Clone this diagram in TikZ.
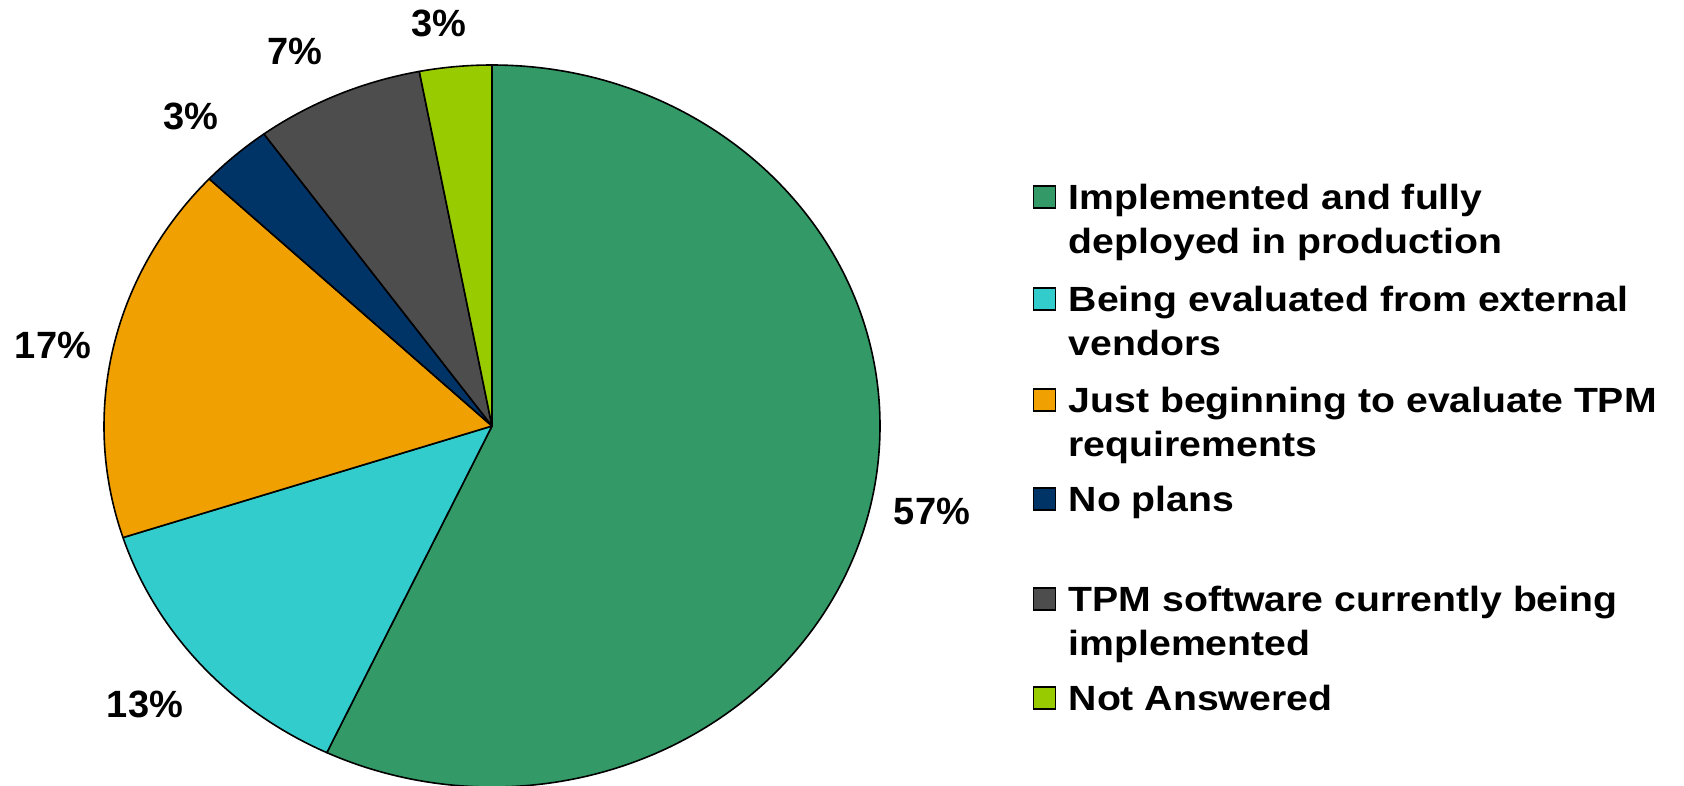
\documentclass[tikz,border=0pt]{standalone}
\usepackage{fontspec}
\setmainfont{Liberation Sans}
\newfontfamily\legfont[FakeStretch=1.12]{Liberation Sans}
\definecolor{cGreen}{HTML}{339966}
\definecolor{cCyan}{HTML}{33CCCC}
\definecolor{cOrange}{HTML}{F0A000}
\definecolor{cNavy}{HTML}{003366}
\definecolor{cGray}{HTML}{4D4D4D}
\definecolor{cLime}{HTML}{99CC00}
\begin{document}
\begin{tikzpicture}[x=1pt,y=-1pt,
  pct/.style={font=\fontsize{38}{44}\selectfont\bfseries, inner sep=0, anchor=base},
  legbox/.style={draw=black, line width=1.5pt, minimum size=22pt, inner sep=0},
  legtext/.style={font=\legfont\fontsize{35}{44}\selectfont\bfseries, align=left, anchor=base west, inner sep=0}]
\useasboundingbox (0,0) rectangle (1684,785);
\begin{scope}[shift={(492,426)}, yscale=-1, line width=1.6pt, line join=round]
\coordinate (ctr) at (0,0);
\foreach \s/\e/\c in {90/-115.2/cGreen, -115.2/-162/cCyan, 198/136.8/cOrange, 136.8/126/cNavy, 126/100.8/cGray, 100.8/90/cLime}
  \filldraw[fill=\c, draw=black] (ctr) -- ({388*cos(\s)},{361*sin(\s)}) arc[start angle=\s, end angle=\e, x radius=388, y radius=361] -- cycle;
\end{scope}
% percentage labels
\node[pct] (p57) at (932,524) {57\%};
\node[pct] (p13) at (145,717) {13\%};
\node[pct] (p17) at (53,358) {17\%};
\node[pct] (p3a) at (191,129) {3\%};
\node[pct] (p7) at (295,64) {7\%};
\node[pct] (p3b) at (439,36) {3\%};
% legend (base anchor = baseline of last line)
\node[legbox, fill=cGreen] (k1) at (1044.5,197) {};
\node[legtext] (t1) at (1068.5,253) {Implemented and fully\\deployed in production};
\node[legbox, fill=cCyan] (k2) at (1044.5,299) {};
\node[legtext] (t2) at (1068.5,355) {Being evaluated from external\\vendors};
\node[legbox, fill=cOrange] (k3) at (1044.5,400) {};
\node[legtext] (t3) at (1068.5,456) {Just beginning to evaluate TPM\\requirements};
\node[legbox, fill=cNavy] (k4) at (1044.5,499) {};
\node[legtext] (t4) at (1068.5,511) {No plans};
\node[legbox, fill=cGray] (k5) at (1044.5,599) {};
\node[legtext] (t5) at (1068.5,655) {TPM software currently being\\implemented};
\node[legbox, fill=cLime] (k6) at (1044.5,698) {};
\node[legtext] (t6) at (1068.5,710) {Not Answered};
\end{tikzpicture}
\end{document}
